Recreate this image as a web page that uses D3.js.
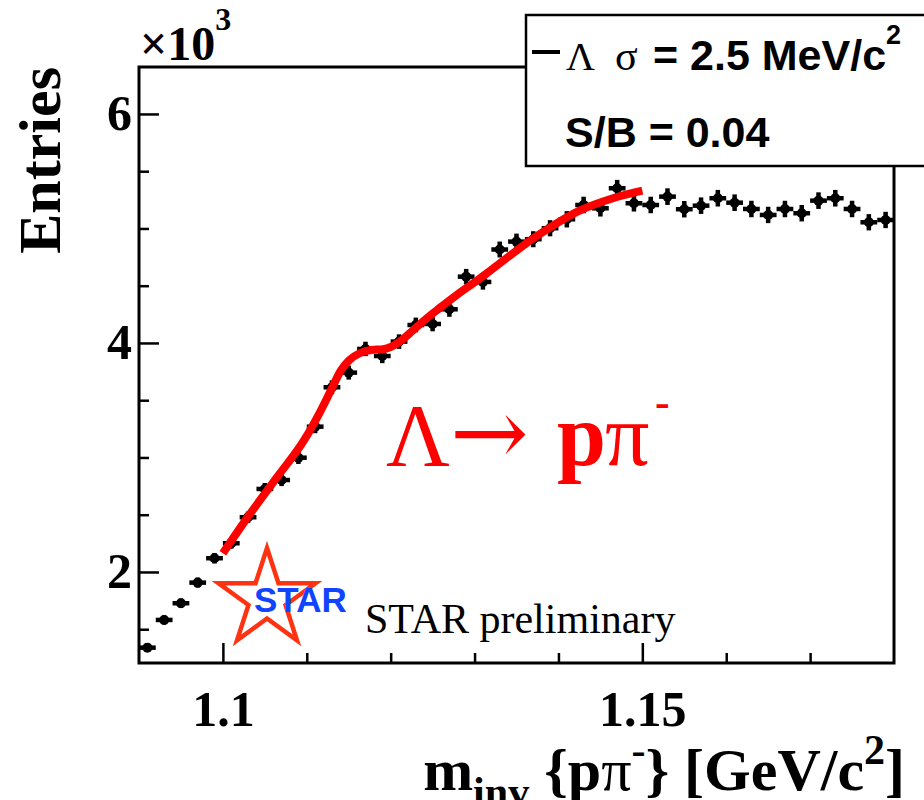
<!DOCTYPE html>
<html>
<head>
<meta charset="utf-8">
<script src="https://cdn.jsdelivr.net/npm/d3@7"></script>
<style>
  html, body { margin: 0; padding: 0; background: #fff; }
  svg { display: block; }
</style>
</head>
<body>
<div id="chart"></div>
<script>
// Histograma m_inv {p pi-} (STAR) con ajuste
const binCenters = [1.091, 1.093, 1.095, 1.097, 1.099, 1.101, 1.103, 1.105, 1.107, 1.109,
  1.111, 1.113, 1.115, 1.117, 1.119, 1.121, 1.123, 1.125, 1.127, 1.129,
  1.131, 1.133, 1.135, 1.137, 1.139, 1.141, 1.143, 1.145, 1.147, 1.149,
  1.151, 1.153, 1.155, 1.157, 1.159, 1.161, 1.163, 1.165, 1.167, 1.169,
  1.171, 1.173, 1.175, 1.177, 1.179];
const binWidth = 0.002;
const entries = [1339, 1581, 1727, 1907, 2120, 2251, 2478, 2725, 2803, 2998,
  3269, 3613, 3741, 3948, 3886, 4012, 4157, 4166, 4294, 4579,
  4533, 4816, 4885, 4906, 5002, 5080, 5205, 5176, 5351, 5220,
  5205, 5278, 5168, 5199, 5264, 5225, 5170, 5118, 5170, 5133,
  5243, 5264, 5170, 5054, 5074];

// Curva del ajuste
const fitMass = [1.1000, 1.1030, 1.1065, 1.1097, 1.1115, 1.1129, 1.1141, 1.1151, 1.1163,
  1.1177, 1.1191, 1.1201, 1.1211, 1.1227, 1.1243, 1.1258, 1.1278, 1.1298, 1.1314,
  1.1330, 1.1348, 1.1366, 1.1386, 1.1425, 1.1464, 1.1500];
const fitEntries = [2163, 2483, 2832, 3153, 3386, 3590, 3764, 3852, 3910,
  3939, 3945, 3968, 4012, 4114, 4216, 4303, 4415, 4520, 4605,
  4695, 4795, 4893, 4990, 5155, 5262, 5330];

// Ticks
const xTicks = [1.1, 1.15];
const xMinorTicks = [1.11, 1.12, 1.13, 1.14, 1.16, 1.17];
const yTicks = [2000, 4000, 6000];
const yMinorTicks = [1500, 2500, 3000, 3500, 4500, 5000, 5500];

const width = 924, height = 800;
const frame = { left: 139, right: 894, top: 67, bottom: 663 };
const serif = '"Liberation Serif", "Times New Roman", serif';
const sans = '"Liberation Sans", Arial, sans-serif';

const x = d3.scaleLinear().domain([1.09, 1.18]).range([frame.left, frame.right]);
const y = d3.scaleLinear().domain([1205, 6410]).range([frame.bottom, frame.top]);

const svg = d3.select('#chart')
  .append('svg')
  .attr('width', width)
  .attr('height', height)
  .attr('viewBox', [0, 0, width, height]);

// Ejes con ticks hacia dentro
const xAxis = svg.append('g')
  .attr('transform', `translate(0,${frame.bottom})`)
  .call(d3.axisBottom(x).tickValues(xTicks).tickSize(-20).tickSizeOuter(0)
    .tickPadding(27).tickFormat(d3.format('')));
xAxis.select('.domain').remove();
xAxis.selectAll('line').attr('stroke', '#000').attr('stroke-width', 2.5);
xAxis.selectAll('text')
  .attr('font-family', serif).attr('font-weight', 'bold').attr('font-size', 50).attr('fill', '#000');

svg.append('g')
  .attr('transform', `translate(0,${frame.bottom})`)
  .call(d3.axisBottom(x).tickValues(xMinorTicks).tickSize(-10).tickFormat(''))
  .call(g => g.select('.domain').remove())
  .selectAll('line').attr('stroke', '#000').attr('stroke-width', 2.5);

const yAxis = svg.append('g')
  .attr('transform', `translate(${frame.left},0)`)
  .call(d3.axisLeft(y).tickValues(yTicks).tickSize(-20).tickSizeOuter(0)
    .tickPadding(7).tickFormat(d => d / 1000));
yAxis.select('.domain').remove();
yAxis.selectAll('line').attr('stroke', '#000').attr('stroke-width', 2.5);
yAxis.selectAll('text')
  .attr('font-family', serif).attr('font-weight', 'bold').attr('font-size', 50).attr('fill', '#000');

svg.append('g')
  .attr('transform', `translate(${frame.left},0)`)
  .call(d3.axisLeft(y).tickValues(yMinorTicks).tickSize(-10).tickFormat(''))
  .call(g => g.select('.domain').remove())
  .selectAll('line').attr('stroke', '#000').attr('stroke-width', 2.5);

// Marco
svg.append('rect')
  .attr('x', frame.left).attr('y', frame.top)
  .attr('width', frame.right - frame.left).attr('height', frame.bottom - frame.top)
  .attr('fill', 'none').attr('stroke', '#000').attr('stroke-width', 3);

// Puntos con barras de error (sqrt N)
const points = svg.append('g')
  .selectAll('g')
  .data(entries.map((n, i) => ({ m: binCenters[i], n })))
  .join('g');

points.append('line')
  .attr('x1', d => x(d.m - binWidth / 2)).attr('x2', d => x(d.m + binWidth / 2))
  .attr('y1', d => y(d.n)).attr('y2', d => y(d.n))
  .attr('stroke', '#000').attr('stroke-width', 4.5);

points.append('line')
  .attr('x1', d => x(d.m)).attr('x2', d => x(d.m))
  .attr('y1', d => y(d.n - Math.sqrt(d.n))).attr('y2', d => y(d.n + Math.sqrt(d.n)))
  .attr('stroke', '#000').attr('stroke-width', 4.5);

points.append('circle')
  .attr('cx', d => x(d.m)).attr('cy', d => y(d.n))
  .attr('r', 5).attr('fill', '#000');

// Ajuste en rojo
const line = d3.line()
  .x(d => x(d[0]))
  .y(d => y(d[1]))
  .curve(d3.curveMonotoneX);

svg.append('path')
  .attr('d', line(fitMass.map((m, i) => [m, fitEntries[i]])))
  .attr('fill', 'none')
  .attr('stroke', '#ff0000')
  .attr('stroke-width', 8);

// Leyenda
svg.append('rect')
  .attr('x', 526).attr('y', 15).attr('width', 430).attr('height', 151)
  .attr('fill', '#fff').attr('stroke', '#000').attr('stroke-width', 2.5);

svg.append('line')
  .attr('x1', 532).attr('x2', 560).attr('y1', 52).attr('y2', 52)
  .attr('stroke', '#000').attr('stroke-width', 4);

const leg1 = svg.append('text').attr('y', 70).attr('fill', '#000');
leg1.append('tspan').attr('x', 566).attr('font-family', serif).attr('font-size', 40).text('Λ');
leg1.append('tspan').attr('x', 615).attr('font-family', serif).attr('font-size', 42).text('σ');
leg1.append('tspan').attr('x', 653).attr('font-family', sans).attr('font-weight', 'bold')
  .attr('font-size', 43).text('= 2.5 MeV/c');
leg1.append('tspan').attr('dy', -26).attr('font-family', sans).attr('font-weight', 'bold')
  .attr('font-size', 27).text('2');

svg.append('text')
  .attr('x', 565).attr('y', 147)
  .attr('font-family', sans).attr('font-weight', 'bold').attr('font-size', 43)
  .text('S/B = 0.04');

// Multiplicador del eje y
const mult = svg.append('text').attr('x', 140).attr('y', 60)
  .attr('font-family', serif).attr('font-weight', 'bold').attr('font-size', 48);
mult.append('tspan').text('×10');
mult.append('tspan').attr('dy', -30).attr('font-size', 32).text('3');

// Títulos de los ejes
svg.append('text')
  .attr('transform', 'translate(60,67) rotate(-90)')
  .attr('text-anchor', 'end')
  .attr('font-family', serif).attr('font-weight', 'bold').attr('font-size', 60)
  .text('Entries');

const xt = svg.append('text')
  .attr('x', 905).attr('y', 790)
  .attr('text-anchor', 'end')
  .attr('font-family', serif).attr('font-weight', 'bold').attr('font-size', 60);
xt.append('tspan').text('m');
xt.append('tspan').attr('dy', 16).attr('font-size', 42).text('inv');
xt.append('tspan').attr('dy', -16).text(' {p');
xt.append('tspan').attr('font-weight', 'normal').text('π');
xt.append('tspan').attr('dy', -26).attr('font-size', 42).text('-');
xt.append('tspan').attr('dy', 26).text('} [GeV/c');
xt.append('tspan').attr('dy', -26).attr('font-size', 42).text('2');
xt.append('tspan').attr('dy', 26).text(']');

// Anotación Λ → p π-
const ann = svg.append('text').attr('y', 465).attr('fill', '#ff0000').attr('font-family', serif);
ann.append('tspan').attr('x', 386).attr('font-size', 88).text('Λ');
ann.append('tspan').attr('x', 450).attr('font-size', 94)
  .attr('font-family', '"DejaVu Serif", serif').text('→');
ann.append('tspan').attr('x', 557).attr('font-size', 88).attr('font-weight', 'bold').text('p');
ann.append('tspan').attr('x', 605).attr('font-size', 88).text('π');
svg.append('text')
  .attr('x', 655).attr('y', 417).attr('fill', '#ff0000')
  .attr('font-family', serif).attr('font-weight', 'bold').attr('font-size', 44)
  .text('-');

// Logo STAR
const star = { cx: 267, cy: 599, R: 51, r: 19.5 };
const starPts = d3.range(10).map(i => {
  const a = i * Math.PI / 5;
  const rad = i % 2 === 0 ? star.R : star.r;
  return [star.cx + rad * Math.sin(a), star.cy - rad * Math.cos(a)];
});
svg.append('polygon')
  .attr('points', starPts.map(p => p.join(',')).join(' '))
  .attr('fill', 'none').attr('stroke', '#ff3311').attr('stroke-width', 4.5)
  .attr('stroke-linejoin', 'miter');

svg.append('text')
  .attr('x', 254).attr('y', 612)
  .attr('font-family', sans).attr('font-weight', 'bold').attr('font-size', 35)
  .attr('fill', '#1144ff')
  .text('STAR');

svg.append('text')
  .attr('x', 365).attr('y', 633)
  .attr('font-family', serif).attr('font-size', 42).attr('fill', '#000')
  .text('STAR preliminary');
</script>
</body>
</html>
